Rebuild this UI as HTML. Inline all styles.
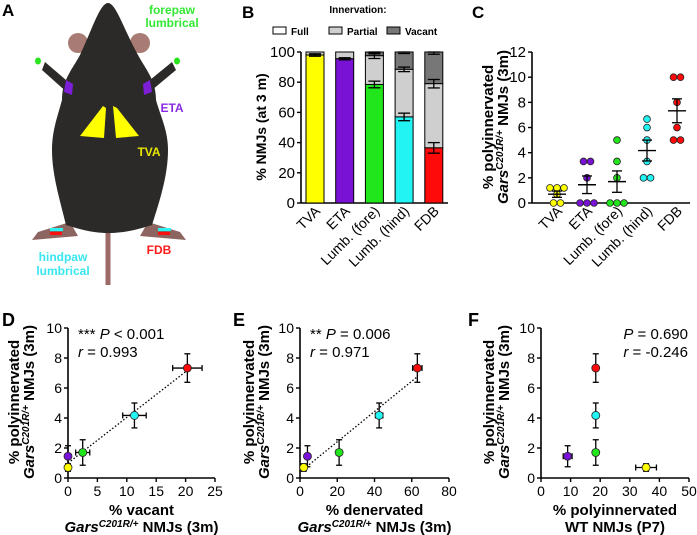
<!DOCTYPE html>
<html><head><meta charset="utf-8"><style>
body{margin:0;background:#fff;font-family:"Liberation Sans",Arial,sans-serif}
svg{display:block}
</style></head><body>
<svg id="fig" width="697" height="535" viewBox="0 0 697 535" xmlns="http://www.w3.org/2000/svg" font-family="Liberation Sans, Arial, sans-serif">
<g>
  <text x="2" y="16" font-size="17" font-weight="bold">A</text>
  <path d="M108,230 L108,285" stroke="#9b6a66" stroke-width="5"/>
  <circle cx="78" cy="43" r="10" fill="#a87b74"/>
  <circle cx="140" cy="43" r="10" fill="#a87b74"/>
  <path d="M45,62 L66,80 L70,95 L42,70 Z M172,62 L150,80 L146,95 L176,70 Z" fill="#2b2a28"/>
  <path d="M38,232 L70,222 L78,236 L32,240 Z M180,232 L148,222 L140,236 L186,240 Z" fill="#8d6560"/>
  <path d="M108,3 C100,3 92,30 80,55 C72,70 62,80 62,100 C58,115 52,130 52,150 C52,175 60,200 66,225 L76,228 C90,232 100,233 108,233 C116,233 128,232 142,228 L152,225 C160,200 168,175 168,150 C168,130 160,115 156,100 C156,80 146,70 138,55 C124,30 116,3 108,3 Z" fill="#2b2a28"/>
  <ellipse cx="38" cy="61" rx="3" ry="3.5" fill="#29e51e"/>
  <ellipse cx="177" cy="61" rx="3" ry="3.5" fill="#29e51e"/>
  <path d="M66,80 L73,84 L72,95 L64,92 Z" fill="#7c1fd6"/>
  <path d="M150,80 L143,84 L144,95 L152,92 Z" fill="#7c1fd6"/>
  <path d="M103,106 L106,108 L104,138 L80,136 Z" fill="#ffff00"/>
  <path d="M113,106 L117,108 L139,136 L116,138 Z" fill="#ffff00"/>
  <rect x="50" y="228" width="13" height="3" fill="#2ff2f2"/>
  <rect x="50" y="232" width="12" height="3" fill="#ff1010"/>
  <rect x="158" y="228" width="13" height="3" fill="#2ff2f2"/>
  <rect x="158" y="232" width="12" height="3" fill="#ff1010"/>
  <g font-weight="bold" font-size="12" text-anchor="middle">
    <text x="172" y="14" fill="#33e833">forepaw</text>
    <text x="172" y="27" fill="#33e833">lumbrical</text>
    <text x="172" y="112" fill="#8a2be2">ETA</text>
    <text x="149" y="156" fill="#e6e600">TVA</text>
    <text x="63" y="261" fill="#38e6f0">hindpaw</text>
    <text x="63" y="275" fill="#38e6f0">lumbrical</text>
    <text x="159" y="254" fill="#ff1a1a">FDB</text>
  </g>
</g>
<g id="gB"></g>
<g id="gC"></g>
<g id="gD"></g>
<g id="gE"></g>
<g id="gF"></g>
</svg>
<script>
// ---- Panel B data ----
const muscles = ["TVA","ETA","Lumb. (fore)","Lumb. (hind)","FDB"];
const colors = ["#ffff00","#7a12d6","#22e61c","#22f4f4","#ff0a0a"];
const fullPct = [98, 95.5, 78.5, 57, 36.5];
const fullErr = [0.8, 0.7, 2.2, 2.5, 3.5];
const partialTop = [100, 100, 97.5, 88.5, 79];
const partialErr = [0, 0, 1.8, 1.5, 2.8];
const vacantTop = [100, 100, 100, 100, 100];
const vacantErr = [0, 0, 1.2, 1, 1.5];
// ---- Panel C data ----
const polyTVA = [1.2, 1.2, 1.2, 0.7, 0, 0];
const polyETA = [3.3, 3.3, 2, 0, 0, 0];
const polyFore = [5, 3.3, 2, 0, 0, 0];
const polyHind = [6.67, 6, 5, 3.3, 2, 2];
const polyFDB = [10, 10, 8, 6, 5, 5];
const polyMean = [0.7, 1.45, 1.7, 4.17, 7.33];
const polySem = [0.25, 0.7, 0.85, 0.83, 0.95];
// ---- Panel D/E/F data ----
const vacantX = [0, 0, 2.5, 11.3, 20.3];
const vacantXErr = [0, 0, 1.2, 2, 2.5];
const denervX = [2, 4, 21, 42.5, 63];
const denervXErr = [0, 0, 1.5, 2, 2.5];
const wtPolyX = [35.5, 9, 18.5, 18.5, 18.5];
const wtPolyXErr = [3.5, 1.5, 0.8, 0.8, 0.8];

const NS="http://www.w3.org/2000/svg";
function mk(parent, tag, attrs, name){
  const e=document.createElementNS(NS,tag);
  for(const k in attrs) e.setAttribute(k,attrs[k]);
  
  
  parent.appendChild(e); return e;
}
function txt(parent,x,y,s,size,name,extra){
  const t=mk(parent,'text',Object.assign({x:x,y:y,'font-size':size},extra||{}),name);
  t.innerHTML=s; return t;
}
function errV(g,x,y1,y2,cap,name){
  mk(g,'line',{x1:x,x2:x,y1:y1,y2:y2,stroke:'#000','stroke-width':1.3},name);
  mk(g,'line',{x1:x-cap,x2:x+cap,y1:y1,y2:y1,stroke:'#000','stroke-width':1.3},name+'-cap');
  mk(g,'line',{x1:x-cap,x2:x+cap,y1:y2,y2:y2,stroke:'#000','stroke-width':1.3},name+'-cap');
}
function errH(g,y,x1,x2,cap,name){
  mk(g,'line',{x1:x1,x2:x2,y1:y,y2:y,stroke:'#000','stroke-width':1.3},name);
  mk(g,'line',{x1:x1,x2:x1,y1:y-cap,y2:y+cap,stroke:'#000','stroke-width':1.3},name+'-cap');
  mk(g,'line',{x1:x2,x2:x2,y1:y-cap,y2:y+cap,stroke:'#000','stroke-width':1.3},name+'-cap');
}
function yAxis(g,x0,yTop,yBot,ticks,ys,size){
  mk(g,'line',{x1:x0,x2:x0,y1:yTop,y2:yBot,stroke:'#000','stroke-width':1.6},'y-axis-line');
  ticks.forEach(v=>{
    mk(g,'line',{x1:x0-4,x2:x0,y1:ys(v),y2:ys(v),stroke:'#000','stroke-width':1.4},'y-tick');
    txt(g,x0-6,ys(v)+5,v,size,'y-tick-label',{'text-anchor':'end'});
  });
}
function xTickLabelsRot(g,xs,labels,y){
  labels.forEach((l,i)=>{
    txt(g,0,0,l,14,'x-tick-label',{'text-anchor':'end',transform:`translate(${xs(i)+6},${y}) rotate(-45)`});
  });
}
function yLabel2(g,bx,cy,l1,l2,size){
  txt(g,0,0,l1,size,'y-axis-title',{'text-anchor':'middle','font-weight':'bold',transform:`translate(${bx},${cy}) rotate(-90)`});
  txt(g,0,0,l2,size,'y-axis-title-2',{'text-anchor':'middle','font-weight':'bold',transform:`translate(${bx+15},${cy}) rotate(-90)`});
}
const GARS='<tspan font-style="italic">Gars</tspan><tspan font-style="italic" font-size="10" dy="-5">C201R/+</tspan><tspan dy="5"> NMJs (3m)</tspan>';

// ---- Panel B ----
(function(){
  const g=document.getElementById('gB');
  txt(g,242,18,'B',17,'panel-label-b',{'font-weight':'bold'});
  txt(g,358,13,'Innervation:',10,'legend-title',{'text-anchor':'middle','font-weight':'bold'});
  const leg=[["Full","#fff",273],["Partial","#cfcfcf",329],["Vacant","#777",387]];
  leg.forEach(l=>{
    mk(g,'rect',{x:l[2],y:27,width:13,height:7,fill:l[1],stroke:'#000','stroke-width':1},'legend-swatch-'+l[0].toLowerCase());
    txt(g,l[2]+18,35,l[0],10,'legend-entry-'+l[0].toLowerCase(),{'font-weight':'bold'});
  });
  const ys=v=>203-v*1.51;
  const xs=i=>315+i*29.7;
  const bw=18;
  yAxis(g,301,52,203,[0,20,40,60,80,100],ys,15);
  mk(g,'line',{x1:301,x2:448,y1:203,y2:203,stroke:'#000','stroke-width':1.6},'x-axis-line');
  muscles.forEach((m,i)=>{
    const x=xs(i)-bw/2;
    mk(g,'rect',{x:x,y:ys(vacantTop[i]),width:bw,height:ys(partialTop[i])-ys(vacantTop[i]),fill:'#777',stroke:'#000','stroke-width':1},'bar-vacant-'+i);
    mk(g,'rect',{x:x,y:ys(partialTop[i]),width:bw,height:ys(fullPct[i])-ys(partialTop[i]),fill:'#cfcfcf',stroke:'#000','stroke-width':1},'bar-partial-'+i);
    mk(g,'rect',{x:x,y:ys(fullPct[i]),width:bw,height:ys(0)-ys(fullPct[i]),fill:colors[i],stroke:'#000','stroke-width':1},'bar-full-'+i);
    errV(g,xs(i),ys(fullPct[i]+fullErr[i]),ys(fullPct[i]-fullErr[i]),6,'err-full-'+i);
    if(partialErr[i]>0) errV(g,xs(i),ys(Math.min(100,partialTop[i]+partialErr[i])),ys(partialTop[i]-partialErr[i]),6,'err-partial-'+i);
    if(vacantErr[i]>0) errV(g,xs(i),ys(vacantTop[i]),ys(vacantTop[i]-vacantErr[i]),6,'err-vacant-'+i);
  });
  xTickLabelsRot(g,xs,muscles,212);
  txt(g,0,0,'% NMJs (at 3 m)',14,'y-axis-title',{'text-anchor':'middle','font-weight':'bold',transform:'translate(266,127) rotate(-90)'});
})();

// ---- Panel C ----
(function(){
  const g=document.getElementById('gC');
  txt(g,472,18,'C',17,'panel-label-c',{'font-weight':'bold'});
  const ys=v=>203-v*12.58;
  const xs=i=>557+i*30;
  yAxis(g,532,52,203,[0,2,4,6,8,10,12],ys,15);
  mk(g,'line',{x1:532,x2:690,y1:203,y2:203,stroke:'#000','stroke-width':1.6},'x-axis-line');
  const sets=[polyTVA,polyETA,polyFore,polyHind,polyFDB];
  sets.forEach((s,i)=>{
    const seen={};
    s.forEach(v=>{const k=v.toFixed(2); seen[k]=(seen[k]||0)+1;});
    const cnt={};
    s.forEach(v=>{
      const k=v.toFixed(2); const n=seen[k]; cnt[k]=(cnt[k]||0)+1;
      const off=(cnt[k]-1-(n-1)/2)*7;
      mk(g,'circle',{cx:xs(i)+off,cy:ys(v),r:3.4,fill:colors[i],stroke:'#222','stroke-width':0.8},'point-'+muscles[i]);
    });
    mk(g,'line',{x1:xs(i)-9,x2:xs(i)+9,y1:ys(polyMean[i]),y2:ys(polyMean[i]),stroke:'#000','stroke-width':1.4},'mean-line-'+i);
    errV(g,xs(i),ys(polyMean[i]+polySem[i]),ys(polyMean[i]-polySem[i]),5,'sem-'+i);
  });
  xTickLabelsRot(g,xs,muscles,212);
  yLabel2(g,493,127,'% polyinnervated',GARS,15);
})();

// ---- Scatter panels ----
function scatter(id,letter,lx,x0,x1px,xmax,xticks,xvals,xerr,ann,annX,annAnchor,xl1,xl2,ylx,trend){
  const g=document.getElementById(id);
  txt(g,lx,326,letter,18,'panel-label-'+letter.toLowerCase(),{'font-weight':'bold'});
  const ys=v=>478-v*15;
  const xs=v=>x0+v/xmax*(x1px-x0);
  yAxis(g,x0,328,478,[0,2,4,6,8,10],ys,14);
  mk(g,'line',{x1:x0,x2:x1px,y1:478,y2:478,stroke:'#000','stroke-width':1.6},'x-axis-line');
  xticks.forEach(v=>{
    mk(g,'line',{x1:xs(v),x2:xs(v),y1:478,y2:482,stroke:'#000','stroke-width':1.4},'x-tick');
    txt(g,xs(v),496,v,14,'x-tick-label',{'text-anchor':'middle'});
  });
  if(trend){
    const n=xvals.length; let mx=0,my=0;
    for(let i=0;i<n;i++){mx+=xvals[i];my+=polyMean[i];} mx/=n; my/=n;
    let sxy=0,sxx=0;
    for(let i=0;i<n;i++){sxy+=(xvals[i]-mx)*(polyMean[i]-my);sxx+=(xvals[i]-mx)**2;}
    const b=sxy/sxx,a=my-b*mx;
    const xa=Math.min(...xvals),xb=Math.max(...xvals);
    mk(g,'line',{x1:xs(xa),y1:ys(a+b*xa),x2:xs(xb),y2:ys(a+b*xb),stroke:'#000','stroke-width':1.3,'stroke-dasharray':'1.5,2'},'trend-line');
  }
  xvals.forEach((xv,i)=>{
    errV(g,xs(xv),ys(polyMean[i]+polySem[i]),ys(polyMean[i]-polySem[i]),3,'y-err-'+i);
    if(xerr[i]>0) errH(g,ys(polyMean[i]),xs(xv-xerr[i]),xs(xv+xerr[i]),3,'x-err-'+i);
  });
  xvals.forEach((xv,i)=>{
    mk(g,'circle',{cx:xs(xv),cy:ys(polyMean[i]),r:4,fill:colors[i],stroke:'#222','stroke-width':0.8},'point-'+muscles[i]);
  });
  txt(g,annX,339,ann[0],15,'stat-p',{'text-anchor':annAnchor});
  txt(g,annX,357,ann[1],15,'stat-r',{'text-anchor':annAnchor});
  const cx=(x0+x1px)/2;
  txt(g,cx,515,xl1,15,'x-axis-title',{'text-anchor':'middle','font-weight':'bold'});
  txt(g,cx,532,xl2,15,'x-axis-title-2',{'text-anchor':'middle','font-weight':'bold'});
  yLabel2(g,ylx,402,'% polyinnervated',GARS,15);
}
scatter('gD','D',2,68,215,25,[0,5,10,15,20,25],vacantX,vacantXErr,['*** <tspan font-style="italic">P</tspan> &lt; 0.001','<tspan font-style="italic">r</tspan> = 0.993'],78,'start','% vacant',GARS,19,true);
scatter('gE','E',233,300,449,80,[0,20,40,60,80],denervX,denervXErr,['** <tspan font-style="italic">P</tspan> = 0.006','<tspan font-style="italic">r</tspan> = 0.971'],310,'start','% denervated',GARS,254,true);
scatter('gF','F',468,541,689,50,[0,10,20,30,40,50],wtPolyX,wtPolyXErr,['<tspan font-style="italic">P</tspan> = 0.690','<tspan font-style="italic">r</tspan> = -0.246'],688,'end','% polyinnervated','WT NMJs (P7)',494,false);
</script>
</body></html>
